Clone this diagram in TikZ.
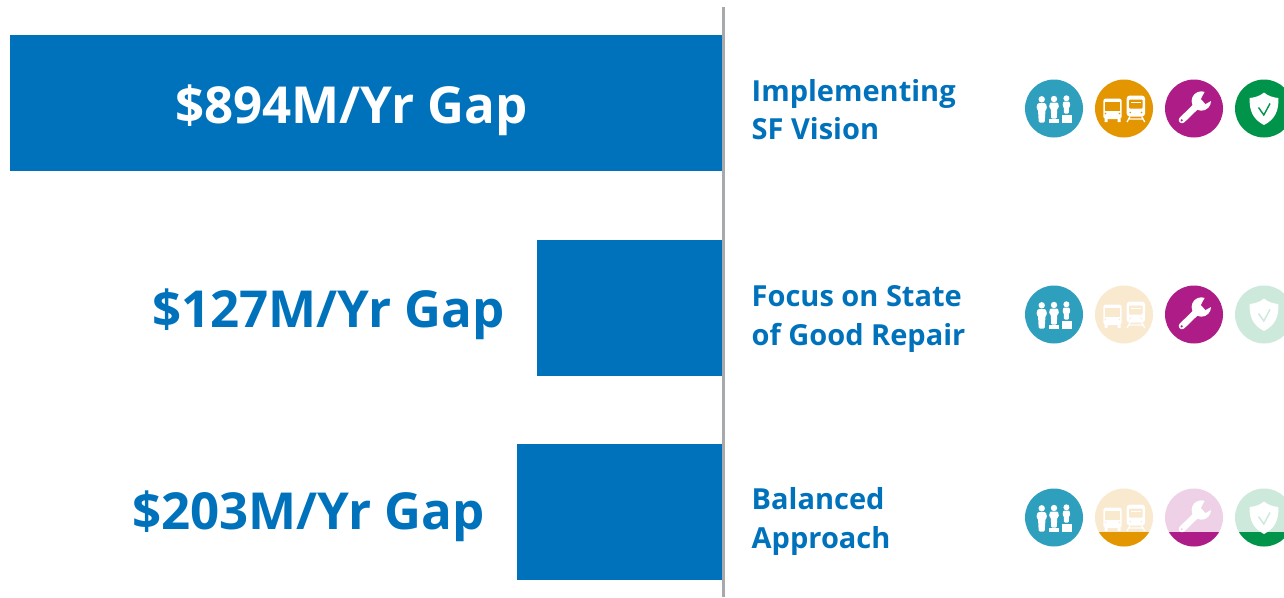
\documentclass[tikz,border=0pt]{standalone}
\usepackage{fontspec}
\setmainfont{Open Sans}
\definecolor{barblue}{HTML}{0072BC}
\definecolor{axisgray}{HTML}{A7A9AC}
\definecolor{teal}{HTML}{2E9FBC}
\definecolor{orangeicon}{HTML}{E39600}
\definecolor{purpleicon}{HTML}{AD1C87}
\definecolor{greenicon}{HTML}{00934A}
\definecolor{paleorange}{HTML}{F9E9CF}
\definecolor{palepurple}{HTML}{EFD1E7}
\definecolor{palegreen}{HTML}{CCE9DB}
\tikzset{
  bar/.style={fill=barblue,draw=none},
  gaplabel/.style={font=\fontsize{51}{51}\selectfont\bfseries,inner sep=0pt,anchor=base},
  sidelabel/.style={font=\fontsize{29}{38.5}\selectfont\bfseries,text=barblue,inner sep=0pt,anchor=west,align=left},
}
\newcommand{\disc}[3]{\fill[#3] (#1,#2) circle (29);}
\newcommand{\bandeddisc}[4]{%
  \fill[#3] (#1,#2) circle (29);
  \begin{scope}\clip (#1,#2) circle (29);
  \fill[#4] (#1-30,#2+14.5) rectangle (#1+30,#2+30);
  \end{scope}}
\newcommand{\peopleicon}[2]{%
  \begin{scope}[shift={(#1,#2)},white]
  \fill (-12.3,-9.2) circle (3.2);
  \fill[rounded corners=1.2] (-17.8,0) -- (-16.3,-5.5) -- (-8.3,-5.5) -- (-6.8,0) -- (-8.5,1) -- (-9.3,14) -- (-15.3,14) -- (-16,1) -- cycle;
  \fill (0,-9.5) circle (3.2);
  \fill[rounded corners=1] (-5,-1) -- (-4,-6) -- (4,-6) -- (5,-1) -- (3.2,0) -- (2.8,10) -- (-2.8,10) -- (-3.2,0) -- cycle;
  \fill (-4.8,10.5) rectangle (5,14);
  \fill (12.4,-10.2) circle (3);
  \fill[rounded corners=1] (8.5,-2.5) -- (9.3,-7) -- (15.5,-7) -- (16.3,-2.5) -- (15,-1.5) -- (14.8,5) -- (10,5) -- (9.8,-1.5) -- cycle;
  \fill (7.5,6.3) rectangle (17.5,14);
  \end{scope}}
\newcommand{\transiticon}[3]{%
  \begin{scope}[shift={(#1,#2)}]
  \fill[white,rounded corners=2.5] (-20.7,-10) rectangle (-2.3,10.5);
  \fill[white] (-19.5,10) rectangle (-16.5,13.5) (-6.5,10) rectangle (-3.5,13.5);
  \fill[#3] (-19,-6.5) rectangle (-4,2);
  \fill[#3] (-18.5,5) circle (.9) (-4.5,5) circle (.9);
  \fill[white,rounded corners=3] (2.7,-13) rectangle (21,8);
  \fill[#3,rounded corners=1] (5,-9) rectangle (18.7,0);
  \fill[white] (7,-7) rectangle (16.7,-5.8);
  \fill[#3] (6.2,4) circle (.9) (17.5,4) circle (.9);
  \draw[white,line width=1.3] (6,8) -- (3,13.5) (17.7,8) -- (20.7,13.5) (5,10.5) -- (18.7,10.5);
  \end{scope}}
\newcommand{\wrenchicon}[3]{%
  \begin{scope}[shift={(#1,#2)}]
  \draw[white,line width=6.6,line cap=round] (-12,11.5) -- (5,-5);
  \fill[white] (7.3,-7.5) circle (9.7);
  \fill[#3] (7,-9.5) -- (12.5,-20) -- (22,-10.5) -- (11.5,-4.5) -- cycle;
  \fill[#3] (-12.3,11.8) circle (1.2);
  \end{scope}}
\newcommand{\shieldicon}[3]{%
  \begin{scope}[shift={(#1,#2)}]
  \fill[white] (0,-16) .. controls (4,-12.5) and (9,-11) .. (14.3,-10.5) .. controls (15,2) and (11,11) .. (0,16.5) .. controls (-11,11) and (-15,2) .. (-14.3,-10.5) .. controls (-9,-11) and (-4,-12.5) .. (0,-16) -- cycle;
  \draw[#3,line width=1.4] (-5.5,-1) -- (-.2,6.5) -- (6,-5);
  \end{scope}}
\begin{document}
\begin{tikzpicture}[x=1pt,y=-1pt]
\clip (0,0) rectangle (1284,597);
\fill[white] (0,0) rectangle (1284,597);
\node[bar,minimum width=712pt,minimum height=136pt,inner sep=0pt,anchor=north west] (bar1) at (10,35) {};
\node[bar,minimum width=185pt,minimum height=136pt,inner sep=0pt,anchor=north west] (bar2) at (537,240) {};
\node[bar,minimum width=205.5pt,minimum height=136pt,inner sep=0pt,anchor=north west] (bar3) at (516.5,444) {};
\coordinate (axistop) at (723,7);
\coordinate (axisbottom) at (723,597);
\draw[axisgray,line width=3] (axistop) -- (axisbottom);
\node[gaplabel,text=white] (gap1) at (351.5,123.5) {\$894M/Yr Gap};
\node[gaplabel,text=barblue] (gap2) at (328.5,327.5) {\$127M/Yr Gap};
\node[gaplabel,text=barblue] (gap3) at (308.5,529.5) {\$203M/Yr Gap};
\node[sidelabel] (side1) at (751.5,109.5) {Implementing\\SF Vision};
\node[sidelabel] (side2) at (751.5,319) {Focus on State\\of Good Repair};
\node[sidelabel] (side3) at (751.5,521.5) {Balanced\\Approach};
\disc{1054}{108.5}{teal}\peopleicon{1054}{108.5}
\disc{1124}{108.5}{orangeicon}\transiticon{1124}{108.5}{orangeicon}
\disc{1194}{108.5}{purpleicon}\wrenchicon{1194}{108.5}{purpleicon}
\disc{1264}{108.5}{greenicon}\shieldicon{1264}{108.5}{greenicon}
\disc{1054}{314.5}{teal}\peopleicon{1054}{314.5}
\disc{1124}{314.5}{paleorange}\transiticon{1124}{314.5}{paleorange}
\disc{1194}{314.5}{purpleicon}\wrenchicon{1194}{314.5}{purpleicon}
\disc{1264}{314.5}{palegreen}\shieldicon{1264}{314.5}{palegreen}
\disc{1054}{517.5}{teal}\peopleicon{1054}{517.5}
\bandeddisc{1124}{517.5}{paleorange}{orangeicon}\transiticon{1124}{517.5}{paleorange}
\bandeddisc{1194}{517.5}{palepurple}{purpleicon}\wrenchicon{1194}{517.5}{palepurple}
\bandeddisc{1264}{517.5}{palegreen}{greenicon}\shieldicon{1264}{517.5}{palegreen}
\end{tikzpicture}
\end{document}
